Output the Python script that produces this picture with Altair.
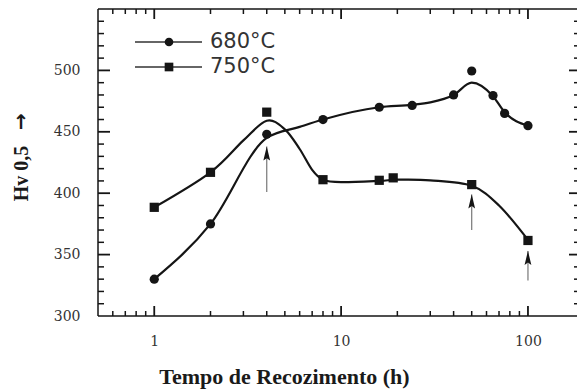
import altair as alt
import pandas as pd

# ---- measured points ----
t680 = [1, 2, 4, 8, 16, 24, 40, 50, 65, 75, 100]
hv680 = [330, 375, 448, 460, 470, 471.5, 480, 499.5, 479.5, 465, 455]
t750 = [1, 2, 4, 8, 16, 19, 50, 100]
hv750 = [388.5, 417, 466, 411, 410.5, 412.5, 407, 361.5]

# ---- smooth curves ----
c680_t = [1, 2, 4, 6, 8, 16, 24, 30, 40, 50, 65, 75, 100]
c680_hv = [330, 375, 445, 454, 460, 470, 472, 474, 480, 490, 479, 466, 455]
c750_t = [1, 2, 3, 4, 5, 6, 7, 8, 10, 16, 20, 30, 50, 70, 100]
c750_hv = [388.5, 417, 443, 459, 452, 436, 419, 411, 409, 410, 411, 410.5, 406, 390, 362]

# ---- arrows ----
arrow_t = [4, 50, 100]
arrow_from = [401, 370, 329]
arrow_to = [438, 399, 353]

# ---- ticks / labels ----
x_labels = [1, 10, 100]
x_major = [1, 10, 100]
x_minor = [0.6, 0.7, 0.8, 0.9, 2, 3, 4, 5, 6, 7, 8, 9, 20, 30, 40, 50, 60, 70, 80, 90]
y_labels = [300, 350, 400, 450, 500]
y_major = [350, 400, 450, 500]
y_minor = [310, 320, 330, 340, 360, 370, 380, 390, 410, 420, 430, 440,
           460, 470, 480, 490, 510, 520, 530, 540]
series = ["680°C", "750°C"]

W, H = 479, 307
INK = "#151515"

xs = alt.Scale(type="log", domain=[0.5, 183])
ys = alt.Scale(domain=[300, 550])

xaxis = alt.Axis(
    values=x_labels, format="d", ticks=False, domain=False, grid=False,
    labelFont="DejaVu Serif", labelFontSize=14, labelColor="#333",
    labelPadding=18,
    title="Tempo de Recozimento (h)", titleFont="Liberation Serif",
    titleFontWeight="bold", titleFontSize=22, titleColor="#1a1a1a",
    titleX=186, titleY=67, titleAlign="center", titleBaseline="alphabetic")
yaxis = alt.Axis(
    values=y_labels, ticks=False, domain=False, grid=False,
    labelFont="DejaVu Serif", labelFontSize=14, labelColor="#333",
    labelPadding=18,
    title="Hv 0,5", titleFont="Liberation Serif", titleFontWeight="bold",
    titleFontSize=20, titleColor="#1a1a1a",
    titleX=-77, titleY=164, titleAlign="center", titleBaseline="middle")

df680 = pd.DataFrame({"t": t680, "hv": hv680})
df750 = pd.DataFrame({"t": t750, "hv": hv750})
dc680 = pd.DataFrame({"t": c680_t, "hv": c680_hv})
dc750 = pd.DataFrame({"t": c750_t, "hv": c750_hv})
darr = pd.DataFrame({"t": arrow_t, "a": arrow_from, "b": arrow_to})

X = lambda f: alt.X(f, type="quantitative", scale=xs, axis=xaxis)
Y = lambda f: alt.Y(f, type="quantitative", scale=ys, axis=yaxis)

one = alt.Data(values=[{}])
frame = [
    alt.Chart(one).mark_rule(color=INK, strokeWidth=1.5).encode(
        x=alt.value(0), y=alt.value(0), y2=alt.value(H)),
    alt.Chart(one).mark_rule(color=INK, strokeWidth=1.5).encode(
        x=alt.value(0), x2=alt.value(W), y=alt.value(H)),
    alt.Chart(one).mark_rule(color=INK, strokeWidth=1.5).encode(
        x=alt.value(0), x2=alt.value(W), y=alt.value(0)),
]

# arrow part of the y title (the rotated "→")
ytitle_arrow = alt.Chart(one).mark_text(text="↑", font="DejaVu Sans", fontWeight="bold",
                                        fontSize=20, color="#1a1a1a",
                                        align="center", baseline="middle").encode(
    x=alt.value(-77), y=alt.value(114))

dxmaj = pd.DataFrame({"v": x_major})
dxmin = pd.DataFrame({"v": x_minor})
dymaj = pd.DataFrame({"v": y_major})
dymin = pd.DataFrame({"v": y_minor})

ticks = [
    alt.Chart(dxmaj).mark_rule(color=INK, strokeWidth=1.8).encode(x=X("v"), y=alt.value(H), y2=alt.value(H - 10)),
    alt.Chart(dxmin).mark_rule(color=INK, strokeWidth=1.5).encode(x=X("v"), y=alt.value(H), y2=alt.value(H - 5)),
    alt.Chart(dxmaj).mark_rule(color=INK, strokeWidth=1.8).encode(x=X("v"), y=alt.value(0), y2=alt.value(10)),
    alt.Chart(dxmin).mark_rule(color=INK, strokeWidth=1.5).encode(x=X("v"), y=alt.value(0), y2=alt.value(5)),
    alt.Chart(dymaj).mark_rule(color=INK, strokeWidth=1.8).encode(y=Y("v"), x=alt.value(0), x2=alt.value(12)),
    alt.Chart(dymin).mark_rule(color=INK, strokeWidth=1.5).encode(y=Y("v"), x=alt.value(0), x2=alt.value(6)),
    alt.Chart(dymaj).mark_rule(color=INK, strokeWidth=1.8).encode(y=Y("v"), x=alt.value(W - 8), x2=alt.value(W)),
    alt.Chart(dymin).mark_rule(color=INK, strokeWidth=1.5).encode(y=Y("v"), x=alt.value(W - 3), x2=alt.value(W)),
]

lines = [
    alt.Chart(dc680).mark_line(interpolate="monotone", color=INK, strokeWidth=2.2).encode(x=X("t"), y=Y("hv")),
    alt.Chart(dc750).mark_line(interpolate="cardinal", color=INK, strokeWidth=2.2).encode(x=X("t"), y=Y("hv")),
]
pts = [
    alt.Chart(df680).mark_point(shape="circle", filled=True, size=85, color=INK, opacity=1).encode(x=X("t"), y=Y("hv")),
    alt.Chart(df750).mark_point(shape="square", filled=True, size=85, color=INK, opacity=1).encode(x=X("t"), y=Y("hv")),
]

arrows = [
    alt.Chart(darr).mark_rule(color="#777", strokeWidth=1.2).encode(x=X("t"), y=Y("a"), y2="b:Q"),
    alt.Chart(darr).mark_point(shape="M0,-1L0.42,0.75L0,0.45L-0.42,0.75Z", filled=True,
                               size=260, color=INK, opacity=1, yOffset=8).encode(x=X("t"), y=Y("b")),
]

# legend (drawn manually)
leg = []
for i, (name, shp) in enumerate(zip(series, ["circle", "square"])):
    yy = 33 + i * 25
    leg.append(alt.Chart(one).mark_rule(color="#333", strokeWidth=1.6).encode(
        x=alt.value(37), x2=alt.value(104), y=alt.value(yy)))
    leg.append(alt.Chart(one).mark_point(shape=shp, filled=True, size=75, color=INK, opacity=1).encode(
        x=alt.value(71), y=alt.value(yy)))
    leg.append(alt.Chart(one).mark_text(text=name, font="DejaVu Sans", fontSize=21, color="#333",
                                        align="left", baseline="middle").encode(
        x=alt.value(112), y=alt.value(yy)))

chart = alt.layer(*frame, ytitle_arrow, *ticks, *lines, *arrows, *pts, *leg).properties(
    width=W, height=H,
    padding={"left": 98, "top": 9, "right": 0, "bottom": 73},
    autosize=alt.AutoSizeParams(type="none"),
    background="white",
).configure_view(stroke=None)

chart.save("out.html", embed_options={"renderer": "svg", "actions": False})
